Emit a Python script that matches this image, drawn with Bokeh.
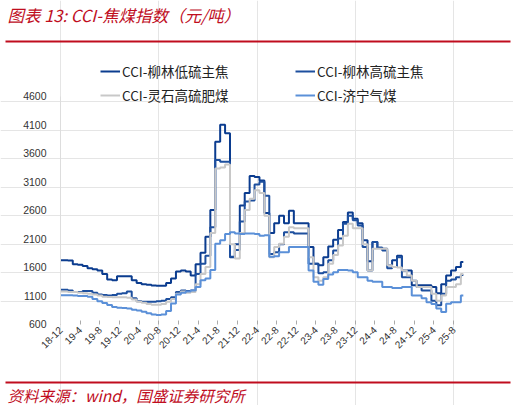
import math
import pandas as pd
from bokeh.plotting import figure
from bokeh.models import Range1d, FixedTicker, Legend, LegendItem, LinearAxis
from bokeh.core.properties import value
from bokeh.embed import file_html
from bokeh.resources import INLINE

# ---- data (monthly), 2018-12 .. 2025-10 ----
months = pd.period_range("2018-12", periods=83, freq="M")
month_labels = [f"{m.year % 100}-{m.month}" for m in months]

liulin_low = [1720, 1720, 1715, 1650, 1640, 1620, 1580, 1560, 1540, 1480,
              1380, 1370, 1440, 1440, 1440, 1370, 1320, 1300, 1290, 1275,
              1270, 1270, 1320, 1400, 1520, 1540, 1520, 1450, 1650, 1850,
              2130, 2600, 3800, 4100, 3950, 1770, 2000, 2680, 2900, 3200,
              3180, 3120, 2550, 2200, 2370, 2500, 2370, 2590, 2370, 2370,
              2370, 1950, 1660, 1630, 1770, 1960, 2080, 2250, 2390, 2560,
              2450, 2370, 2070, 1700, 2040, 1940, 1920, 1630, 1720, 1800,
              1540, 1540, 1280, 1280, 1280, 1280, 1250, 1140, 1300, 1450,
              1540, 1600, 1690]
liulin_high = [1200, 1200, 1190, 1160, 1160, 1180, 1180, 1150, 1120, 1110,
               1100, 1110, 1130, 1140, 1170, 1050, 1000, 990, 990, 990,
               1000, 1010, 1040, 1070, 1160, 1190, 1180, 1190, 1480, 1660,
               1800, 2300, 3480, 3450, 3450, 1780, 1900, 2400, 2750, 2770,
               3050, 3100, 2850, 1830, 1860, 2000, 2210, 2210, 2190, 2190,
               2190, 1660, 1660, 1490, 1510, 1720, 1890, 2100, 2360, 2500,
               2420, 2330, 1950, 1540, 2040, 1940, 1890, 1580, 1600, 1770,
               1420, 1420, 1360, 1250, 1190, 1190, 1010, 930, 1130, 1360,
               1380, 1420, 1460]
lingshi = [1170, 1170, 1160, 1160, 1150, 1140, 1130, 1120, 1100, 1080,
           1075, 1070, 1070, 1070, 1060, 1030, 990, 975, 950, 940,
           940, 950, 990, 1040, 1130, 1170, 1150, 1160, 1300, 1480,
           1600, 2200, 3330, 3350, 3400, 2000, 1750, 2200, 2600, 2800,
           2950, 2900, 2500, 1770, 1950, 2010, 2130, 2300, 2280, 2280,
           2280, 1770, 1420, 1360, 1420, 1660, 1810, 1980, 2150, 2360,
           2280, 2280, 2000, 1540, 1920, 1920, 1920, 1630, 1600, 1590,
           1540, 1450, 1360, 1250, 1250, 1250, 1130, 1010, 1100, 1250,
           1250, 1300, 1480]
jining = [1105, 1105, 1105, 1100, 1090, 1090, 1080, 1040, 1000, 970,
          935, 900, 885, 880, 870, 850, 835, 815, 790, 765,
          760, 765, 830, 960, 1120, 1150, 1170, 1190, 1250, 1370,
          1400, 1550, 2010, 2070, 2180, 2210, 2190, 2180, 2190, 2190,
          2180, 2150, 2160, 1780, 1790, 1860, 1860, 1950, 1950, 1950,
          1950, 1540, 1340, 1290, 1390, 1470, 1510, 1550, 1550, 1540,
          1510, 1420, 1420, 1360, 1340, 1340, 1250, 1250, 1230, 1230,
          1250, 1250, 1100, 1100, 1050, 980, 950, 870, 810, 955,
          980, 980, 1100]

series_names = ["CCI-柳林低硫主焦", "CCI-柳林高硫主焦", "CCI-灵石高硫肥煤", "CCI-济宁气煤"]
series_values = [liulin_low, liulin_high, lingshi, jining]
series_colors = ["#0b3c8f", "#1d4f9e", "#c8c8c8", "#5b90d8"]

y_ticks = [600, 1100, 1600, 2100, 2600, 3100, 3600, 4100, 4600]
x = list(range(len(months)))
x_ticks = x[::4]

title_text = "图表 13:  CCI-焦煤指数（元/吨）"
source_text = "资料来源：wind，国盛证券研究所"

W, H = 513, 405
RED = "#c00d1e"
CJK = "Noto Sans CJK SC"

# plot area geometry (page pixels): month 0 at x=60, 600 at y=323.5, 4600 at y=95.7
x0_px, px_per_month = 60, 4.9125
y0_px, px_per_unit = 323.5, 227.8 / 4000

p = figure(width=W, height=H,
           x_range=Range1d(-x0_px / px_per_month, (W - x0_px) / px_per_month),
           y_range=Range1d(600 - (H - y0_px) / px_per_unit, 600 + y0_px / px_per_unit),
           toolbar_location=None, tools="", output_backend="svg",
           min_border=0, x_axis_location=None, y_axis_location=None,
           outline_line_color=None)
p.extra_x_ranges = {"px": Range1d(0, W)}
p.extra_y_ranges = {"py": Range1d(H, 0)}

# title, source and the two red rules
p.text(x=[7], y=[14], text=[title_text], text_font=value(CJK), text_font_size="16.5px",
       text_font_style="italic", text_color=RED, text_baseline="middle",
       x_range_name="px", y_range_name="py")
p.segment(x0=[5, 5], y0=[41, 382], x1=[510, 510], y1=[41, 382], line_color=RED,
          line_width=2, x_range_name="px", y_range_name="py")
p.text(x=[7], y=[394], text=[source_text], text_font=value(CJK), text_font_size="15.5px",
       text_font_style="italic", text_color=RED, text_baseline="middle",
       x_range_name="px", y_range_name="py")

items = []
for name, vals, color in zip(series_names, series_values, series_colors):
    r = p.step(x, vals, mode="center", line_color=color, line_width=2)
    items.append(LegendItem(label=name, renderers=[r]))

legend = Legend(items=items, location=(100, H - 105), orientation="horizontal", ncols=2,
                padding=0, margin=0, spacing=4, glyph_width=20, glyph_height=20,
                label_height=20, label_standoff=2, label_width=169,
                label_text_font=CJK, label_text_font_size="13.5px", label_text_color="#222222",
                border_line_color=None, background_fill_alpha=0)
p.add_layout(legend, "center")

yax = LinearAxis(fixed_location=0, ticker=FixedTicker(ticks=y_ticks), bounds=(600, 4600))
yax.axis_line_color = "#dddddd"
yax.major_tick_line_color = None
yax.minor_tick_line_color = None
yax.major_label_standoff = 8
yax.major_label_text_font = "Liberation Sans"
yax.major_label_text_font_size = "10.5px"
yax.major_label_text_color = "#333333"
p.add_layout(yax, "left")

xax = LinearAxis(fixed_location=600, ticker=FixedTicker(ticks=x_ticks))
xax.major_label_overrides = {i: month_labels[i] for i in x_ticks}
xax.major_label_orientation = math.pi / 4
xax.axis_line_color = None
xax.major_tick_in = 4
xax.major_tick_out = 0
xax.major_tick_line_color = "#aaaaaa"
xax.minor_tick_line_color = None
xax.major_label_standoff = 4
xax.major_label_text_font = "Liberation Sans"
xax.major_label_text_font_size = "10px"
xax.major_label_text_color = "#333333"
p.add_layout(xax, "below")

open("out.html", "w").write(file_html(p, INLINE))
